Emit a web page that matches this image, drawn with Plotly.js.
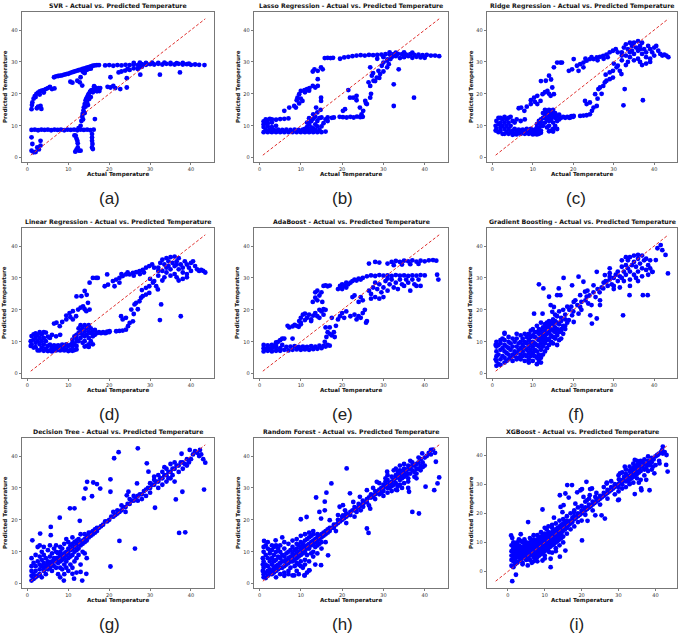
<!DOCTYPE html>
<html><head><meta charset="utf-8">
<script src="https://cdn.plot.ly/plotly-3.0.1.min.js"></script>
<style>html,body{margin:0;padding:0;background:#fff}#chart{width:685px;height:635px}</style>
</head><body><div id="chart"></div>
<script>
// ---------- data ----------
const modelNames = ["SVR","Lasso Regression","Ridge Regression","Linear Regression","AdaBoost","Gradient Boosting","Decision Tree","Random Forest","XGBoost"];
const panelLetters = ["(a)","(b)","(c)","(d)","(e)","(f)","(g)","(h)","(i)"];
const tickValues = [0,10,20,30,40];
const actualMin = 0.8, actualMax = 43.5;

const svrPoints = [
[1,8.7],[1.8,8.8],[2.6,8.6],[3.4,8.8],[4.2,8.7],[5,8.8],[5.8,8.6],[6.6,8.8],[7.4,8.7],[8.2,8.8],[9,8.6],[9.8,8.8],[10.6,8.7],[11.4,8.8],[12.2,8.6],[13,8.8],[13.8,8.7],[14.6,8.8],[15.4,8.6],[16.2,8.8],
[1,6.4],[1.2,4.3],[1.5,1.7],[1,2.2],[2.4,3.2],[3.2,3.8],[3.2,5.3],[2,1.8],[2.8,2.6],
[1,15.2],[1.1,16.5],[1.2,17.3],[1.5,18.5],[1.8,19.3],[2.2,20],[2.6,20.4],[3,20.8],[3.5,21],[4,21.2],[4.5,21.5],[5,21.8],[5.5,22.2],[6,21.5],[6.6,21.7],[2.3,15.5],[2.6,16],[3.2,16.2],[3.4,15.3],[2,19],[3,19.8],[4,20.4],
[6.5,25.2],[7,25.5],[7.5,25.6],[8,25.7],[8.5,25.8],[9,26],[9.5,26.2],[10,26.3],[10.5,26.6],[11,26.8],[11.5,27],[12,27.2],[12.5,27.4],[13,27.6],[13.5,27.8],[14,28],[14.5,28.2],[15,28.4],[15.5,28.6],[16,28.8],[16.5,28.9],[17,29],[17.5,29],[13.5,27],[14,27.2],[14.5,27.5],[15,27.8],[14,26.5],[15.5,27.9],
[19,28.9],[20,29],[21,28.8],[22,29],[23,28.9],[24,29.1],[25,29],[26,29.2],[27,29],[28,29.3],[29,29.1],[30,29.3],[31,29.2],[32,29.4],[33,29.2],[34,29.4],[35,29.3],[36,29.2],[37,29.4],[38,29.2],[39,29.3],[40,29.1],[41,29.2],[42,29.1],[43.3,29],
[26,29.7],[27.5,29.8],[29,29.7],[30.5,29.8],[32,29.7],[33.5,29.8],[35,29.7],[36.5,29.6],[38,29.7],[39.5,29.5],
[25,27.5],[26,28],[27,27.8],[27.5,28.3],[28,28.5],[32.4,26],[37.3,26.7],
[12.5,9.3],[13,10],[13.2,11.5],[13.4,12.8],[13.5,13.7],[13.7,14.8],[13.8,15.8],[14,16.8],[14.2,17.9],[14.4,18.5],[14.6,18.9],[14.8,19.5],[15,20],[15.3,20.6],[15.5,21],[15.8,21.2],[16.2,21.5],[16.6,21.4],[17,21.5],[17.4,21.8],[17.8,21.8],[16,20.5],[17,20.8],[16.5,22],[15.5,19],[14.2,16],[13.6,12],[17.6,20.9],[16.3,22.4],[14.6,17.2],[15.1,18.4],[14,14],[14.8,16.5],
[11.5,7],[11.8,6.9],[12,6],[12.2,5.3],[12.3,4.5],[12.3,3.2],[12.6,2.2],[13,2.2],[12,2.5],[11.7,1.9],
[15.8,7.4],[15.8,6.3],[15.8,5.3],[15.9,4.3],[15.8,3.2],[16,2.7],[16.5,12.1],
[19.6,22.2],[20.3,22],[21.5,21.8],[20.3,25.2],[22.7,21.5],[24.3,22],[22.3,26.7],[23.9,27.3],[24.3,24.9],[27.6,26],[12.2,24.1],[13.4,22.6],[12.8,23.6],[10.5,23.8],[11,23.5],[13,25.2],[13.8,26.7],[21,22.5],[23,27],[24.5,27.8]
];

const lassoPoints = [
[1,8],[2,8],[3,8],[4,8],[5,8],[6,8],[7,8],[8,8],[9,8],[10,8],[11,8],[12,8],[13,8],[14,8],[15,8],
[1.5,8.8],[2.5,8.8],[3.5,8.7],[4.5,8.8],[5.5,8.7],[6.5,8.8],[7.5,8.7],[8.5,8.8],[9.5,8.7],[10.5,8.8],[11.5,8.7],[12.5,8.8],[13.5,8.7],[14.5,8.8],
[1,9.6],[1,10.5],[1,11.4],[2,9.8],[2,10.8],[2,11.8],[3,9.6],[3,11],[3,12],[1.5,12],[2.5,12.2],[4,11.9],[5,12.1],[6,12.2],[7,12.3],[4,10],[1.5,10.8],
[11.5,9.6],[12,10.5],[12.5,11.4],[13,12.2],[11.5,11],[12.5,9.5],[13.5,10.4],[14,11.5],[14.5,12.4],[15,9.8],[15.5,10.8],[16,12],[13,9.2],[14,9.8],[12,12.4],[13.5,12.8],[15,12.6],[16.5,12.6],[17.5,12.5],[18,12.6],[11,9],[16,8.2],[16.5,11.5],
[13,13.6],[14,14.2],[14.8,15],
[6,14.7],[7.2,15.7],[8.4,16.2],[8.8,15.7],[9.2,18.8],[9.6,17],[9.6,19.9],[10,20.9],[10.4,17.8],[10.9,21.2],[11.5,21.5],[12.1,21.8],[12.9,22.5],[13.5,22],[14.1,22.5],[9,18],[10,18.5],[11,20.5],[12,21],
[13.3,27.7],[14.1,27.2],[14.9,28.3],[15.3,27.7],[14.1,24.6],[12.9,27],[14.9,17.8],[14.9,18.8],[13.7,15.7],
[15.8,31.2],[16.5,31.3],[17.2,31.2],[17.8,31.3],[19.5,31],[20.5,31.4],[21.5,31.6],[22.5,31.8],[23.5,32],[24.5,32.1],[25.5,32],[26.5,32.2],[27.5,32.1],[28.5,32.2],[29.5,32.3],[30.5,32.4],[31.5,32.3],[32.5,32.4],[33.5,32.5],[34.5,32.4],[35.5,32.3],[36.5,32.4],[37.5,32.2],[38.5,32.3],[39.5,32.1],[40.5,32.2],[41.5,32],[42.5,32],[43.5,31.8],
[28.5,31],[30,31.5],[31,30.8],[32,31.5],[33,31.8],[34,31.2],[35,31.5],[36,31.8],[37,31.3],[38,31.6],[39,31.4],[40,31.3],[33,32.9],[35,33],[37,32.9],[31.5,33],
[19.4,12.8],[20.2,12.7],[21.1,12.6],[22,12.8],[22.8,12.6],[23.6,12.9],[24.4,12.7],[25,12.8],
[24.7,13.6],[24.3,15.7],[23.5,18],[23.5,19.4],[22.7,18.8],[21.9,18.8],[21.5,21.2],[25.6,17.8],[26,16.8],[26.8,18.8],[26.4,23.6],[26.8,22.5],[26.8,28.3],[27.2,25.7],[27.6,24.1],[28.4,25.1],[29.2,26.2],[28.8,27.2],[29.6,28.8],[30,29.8],[30.9,30.4],[30.9,28.3],[31.3,29.3],[31.7,30.9],[32.5,31.9],[32.5,23],[32.5,16.2],[33.7,27.7],[37.4,18.8],[20.2,14.7],[20.7,15.2],[25.1,14.7],[28,24],[29,25],[30,27],[27.5,26.5],[25.8,17],[27,20]
];

const ridgePoints = [
[0.8,8.5],[0.8,10],[1,11.5],[1,9],[1.5,8],[1.5,10.5],[1.5,12.5],[2,8.5],[2,9.5],[2,11],[2,12.5],[2.5,7.5],[2.5,10],[2.5,12],[3,7.5],[3,9],[3,11],[3,12.8],[3.5,8],[3.5,10],[3.5,12],[4,7.5],[4,9],[4,11],[4,12.5],[4.5,8],[4.5,10],[5,7.2],[5,8.5],[5,11.5],[5.5,7.5],[5.5,9],[6,7.3],[6,8.3],[6,12],[6.5,7.8],[6.5,8.8],[7,7.5],[7,8.5],[7.5,7.8],[7.5,8.8],[8,7.5],[8,8.5],[8.5,7.8],[8.5,9],[9,7.5],[9,8.5],[9.5,7.8],[9.5,9],[10,7.3],[10,8.5],[10.5,7.5],[10.5,8.8],[11,7.3],[11,8.3],[11,9.5],[11.5,7.5],[11.5,9],[12,7.8],[12,8.5],[12,10],[4.5,12.8],[5.5,11],[7,11.5],[8,12],
[11,10.5],[11.5,11.5],[12,12],[12,11],[12.5,10],[12.5,12.5],[13,11],[13,12.5],[13,13.5],[13.5,9.5],[13.5,12],[13.5,14],[14,10],[14,11.5],[14,13],[14,15],[14.5,8.5],[14.5,12],[14.5,14],[15,9],[15,11],[15,13],[15,15],[15.5,10],[15.5,12.5],[15.5,14],[16,9],[16,11.5],[16,13],[16.5,12],[16.5,13.5],[17,12.5],[17.5,12.8],[18,12.5],[18.5,12.8],[19,12.5],[19.5,13],[20,12.8],[12.5,14],[13,15],[14,8.3],[15,8.2],
[6.5,15.5],[7.1,15.7],[7.9,14.7],[8.5,16],[9.5,16.8],[9.5,18],[10.3,18.8],[10.5,17.5],[11.1,19.4],[11.1,16.8],[11.9,17.8],[12.4,19.9],[13,20.5],[13.6,20.9],[14.4,19.4],[14,20],[15.2,19.9],[14.8,22],[13.2,24.1],[14,25.7],[14.5,24.5],[15.2,28.3],[16,29.8],[16.8,29.8],[17.2,29.8],[12,24],
[18.9,27.2],[19.7,27.7],[20.1,30.9],[20.9,28.8],[21.3,27.2],[21.7,29.3],[22.5,28.3],[22.5,29.8],[23.3,30.4],[24.1,30.9],[25,30.9],[25.8,31.4],[26.6,31.6],[27.4,31.9],[28.2,32.3],[29,33],[29.8,33.5],[23,31],[24.5,31.5],[26,30.5],[27.5,31],[28.5,31.5],[30.5,34],
[19.3,12.6],[20.1,13.1],[21.7,13.1],[22.5,13.2],[23.3,13.3],[24.1,13.6],[24.6,14.7],[22.9,17.8],[23.3,16.8],[24.1,17.3],[25,15.7],[25.8,16.2],[25.4,19.9],[26.2,21.5],[26.6,22],[27.4,22.5],[27.8,23.6],[28.2,24.1],[29,24.6],[29.8,25.1],[29,26.7],[29.8,27.2],[30.7,28.3],[31,28.8],[32.7,21.5],[32.4,16.4],[37.2,18],[31.5,27.2],[31.9,26.2],[26,18.5],[27,20],[28,26],[30,29.5],
[32,33],[32.5,34.5],[33,35.5],[33.5,34],[34,33],[34.5,35],[35,36],[35.5,34.5],[36,33.5],[36.5,35],[37,36],[37.5,34],[38,33],[38.5,35],[39,34],[39.5,33],[40,32],[33,32],[34,31.5],[35,32.5],[36,31],[37,32.5],[38,31.5],[39,31],[32,30.5],[33.5,30],[35,30.5],[36.5,30],[38,29.5],[34,36],[36,36.5],[37,29],[39,30],[31,33],[32,32],[34.5,33.5],[36.5,34],[33,29],[40,34.5],
[40.5,35],[41,33.5],[41.5,32.5],[42,32],[42.5,32.3],[43,32],[43.5,31.5]
];

const linearPoints = [
[0.8,8.7],[0.8,10.2],[1,11.8],[1,9.2],[1.5,8.2],[1.5,10.7],[1.5,12.3],[2,8.3],[2,9.7],[2,11.2],[2,12.6],[2.5,7.3],[2.5,10.2],[2.5,12.2],[3,7.3],[3,9.2],[3,11.2],[3,13],[3.5,8.2],[3.5,10.2],[3.5,12.3],[4,7.2],[4,9.1],[4,11.2],[4,13],[4.5,7.8],[4.5,10.2],[5,7.1],[5,8.7],[5,11.6],[5.5,7.3],[5.5,9.1],[6,7],[6,8.2],[6,12.2],[6.5,7.6],[6.5,8.9],[7,7.3],[7,8.6],[7.5,7.6],[7.5,8.9],[8,7.3],[8,8.6],[8.5,7.6],[8.5,9.1],[9,7.3],[9,8.7],[9.5,7.6],[9.5,9.2],[10,7.1],[10,8.7],[10.5,7.4],[10.5,9],[11,7.2],[11,8.5],[11,9.7],[11.5,7.4],[11.5,9.2],[12,7.6],[12,8.7],[12,10.2],[4.5,12.9],[5.5,11.2],[7,11.7],[8,12.2],
[11,10.7],[11.5,11.7],[12,12.2],[12,11.2],[12.5,10.2],[12.5,12.7],[13,11.2],[13,12.7],[13,13.7],[13.5,9.7],[13.5,12.2],[13.5,14.2],[14,10.2],[14,11.7],[14,13.2],[14,15.2],[14.5,8.7],[14.5,12.2],[14.5,14.2],[15,9.2],[15,11.2],[15,13.2],[15,15.2],[15.5,10.2],[15.5,12.7],[15.5,14.2],[16,9.2],[16,11.7],[16,13.2],[16.5,12.2],[16.5,13.7],[17,12.7],[17.5,13],[18,12.7],[18.5,13],[19,12.7],[19.5,13.2],[20,13],[12.5,14.2],[13,15.2],[14,8.5],[15,8.4],
[6.5,15.7],[7.1,16],[7.9,14.9],[8.5,16.2],[9.5,17],[9.5,18.2],[10.3,19],[10.5,17.7],[11.1,19.6],[11.1,17],[11.9,18],[12.4,20.1],[13,20.7],[13.6,21.1],[14.4,19.6],[14,20.2],[15.2,20.1],[14.8,22.2],[13.2,24.3],[14,25.9],[14.5,24.7],[15.2,28.5],[16,30],[16.8,30],[17.2,30],[12,24.2],
[18.9,27.4],[19.7,27.9],[19.5,31.1],[20.9,29],[21.3,27.4],[21.7,29.5],[22.5,28.5],[22.5,30],[23.3,30.6],[24.1,31.1],[25,31.1],[25.8,31.6],[26.6,31.8],[27.4,32.1],[28.2,32.5],[29,33.2],[29.8,33.7],[23,31.2],[24.5,31.7],[26,30.7],[27.5,31.2],[28.5,31.7],[30.5,34.2],
[19.3,12.8],[20.1,13.3],[21.7,13.3],[22.5,13.4],[23.3,13.5],[24.1,13.8],[24.6,14.9],[22.9,18],[23.3,17],[24.1,17.5],[25,15.9],[25.8,16.4],[25.4,20.1],[26.2,21.7],[26.6,22.2],[27.4,22.7],[27.8,23.8],[28.2,24.3],[29,24.8],[29.8,25.3],[29,26.9],[29.8,27.4],[30.7,28.5],[31,29],[32.7,21.7],[32.4,16.8],[37.5,18],[31.5,27.4],[31.9,26.4],[26,18.7],[27,20.2],[28,26.2],[30,29.7],
[32,33.2],[32.5,34.7],[33,35.7],[33.5,34.2],[34,33.2],[34.5,35.2],[35,36.5],[35.5,34.7],[36,33.7],[36.5,35.2],[37,36.2],[37.5,34.2],[38,33.2],[38.5,35.2],[39,34.2],[39.5,33.2],[40,32.2],[33,32.2],[34,31.7],[35,32.7],[36,31.2],[37,32.7],[38,31.7],[39,31.2],[32,30.7],[33.5,30.2],[35,30.7],[36.5,30.2],[38,29.7],[34,36.2],[36,36.7],[37,29.2],[39,30.2],[31,33.2],[32,32.2],[34.5,33.7],[36.5,34.2],[33,29.2],[40,34.7],
[40.5,35.2],[41,33.7],[41.5,32.7],[42,32.2],[42.5,32.5],[43,32.2],[43.5,31.7]
];

const adaPoints = [
[1,7],[1,8],[1,9],[2,7.2],[2,8.2],[2,8.9],[3,7],[3,8],[3,9],[4,7.2],[4,8.3],[4,9],[5,7.2],[5,8],[5.5,9],[6,7.5],[6.5,8.4],[7,7.3],[7.5,8.5],[8,7.5],[8.5,8.6],[9,7.6],[9.5,8.4],[10,7.5],[10.5,8.5],[11,7.6],[11.5,8.4],[12,7.5],[12.5,8.6],[13,7.7],[13.5,8.5],[14,7.8],[14.5,8.8],[15,8],[15.5,8.7],[16,8.5],[16.5,9],[17,8.8],[1.5,7.7],[2.5,7.6],[3.5,8.6],
[4,9.8],[4.5,10],[5,10.5],[5.5,11],[6,11],[8,11],
[6.8,15],[7.2,14.5],[8,14.8],[8.5,15.3],[9,15],[9.5,14.7],[10,15.5],
[9.6,16.5],[10,17.5],[10.5,18.5],[11,16.8],[11.5,17.5],[12,18.5],[12.5,17],[13,18.2],[13.5,19],[14,18],[14.5,20],[15,19.5],[15.5,18.5],[16,20],[11,18.8],[12.5,16.5],[14.5,17.5],[15.5,20.2],[10,16],
[12.9,22.5],[13.5,25.5],[14,23],[14.5,24.5],[15,25.5],[14,26],[15.2,22.5],[13.5,23.8],
[15.5,27.5],[16,27.7],[16.5,27.4],[17,27.6],
[15.8,10],[16.2,11.5],[16.5,13],[17,14.5],[17.5,12],[18,13],[16,14.5],[18.2,11.5],[17,12.5],[17.5,17.5],
[19,26.5],[19.5,27.5],[20,28],[20.5,27.5],[21,28.5],[21.5,28],[22,28.5],[22.5,29],[23,29.5],[23.5,29.2],[24,29.8],[24.5,29.5],[25,30],[20,26.5],[21,27],
[26,30.5],[27,30.8],[28,30.6],[29,30.9],[30,30.7],[31,30.8],[32,30.6],[33,30.9],[34,30.7],[35,30.8],[36,30.6],[37,30.8],[38,30.7],[39,30.9],[40,30.8],
[26.5,34.5],[28,35],[29,34.8],[31,34.5],[32,35],[33,35.3],[34,35],[35,35.4],[36,35.2],[37,35.5],[38,35.1],[39,35.4],[40,35.2],[41,35.5],[42,35.6],[42.8,35.4],[32.5,34],[34.5,34.2],[36.5,34.3],[38.5,34.4],
[26.5,26],[27,25],[27.5,27],[28,24],[28.5,26.5],[29,28],[29.5,25.5],[30,27],[30.5,29],[31,26],[31.5,28],[32,29.5],[32.5,27],[33,28.5],[33.5,26.5],[34,29.5],[34.5,28],[35,27.5],[35.5,29.5],[36,28.5],[36.5,26],[37,29.5],[37.5,28],[38,27.5],[39,27.5],[38.5,29.5],[29,23.5],[30,24],[27,23.5],[28,28.5],[31,29.8],
[18.5,15],[19,17],[19.5,18],[20,19],[20.5,17.5],[21,19.5],[22,18],[23,18.5],[23.5,17],[24,18],[24.5,17.5],[25,19],[25.5,20],[26,16.5],[25.8,16],[24.5,24],[25,23],[22.5,24],[23,24.5],[24,22.5],
[43,31],[43.3,29.5]
];

const gbPoints = [
[1,2.5],[1,4],[1,5.5],[1,7],[1,8.5],[1,10],[1.5,3],[1.5,6],[1.5,9],[2,2.8],[2,4.5],[2,7.5],[2,9.5],[2,10.5],[2.5,5.5],[2.5,8],[3,3.5],[3,5],[3,7],[3,9],[3,10.5],[3,12.5],[3.5,4],[3.5,6.5],[3.5,8.5],[4,4.5],[4,6],[4,8],[4,10],[4.5,5],[4.5,7.5],[4.5,9.5],[5,4],[5,6],[5,8.5],[5,11],[5.5,5.5],[5.5,7],[5.5,10],[6,4.5],[6,6.5],[6,8.5],[6,11],[6.5,5],[6.5,7.5],[6.5,9.5],[7,4.5],[7,6],[7,8],[7,10],[7,12],[7.5,5.5],[7.5,7],[7.5,9],[7.5,11],[8,4],[8,6],[8,8],[8,10],[8,12.5],[8.5,5.5],[8.5,7.5],[8.5,9.5],[8.5,11.5],[9,4.5],[9,6.5],[9,8.5],[9,10.5],[9,12.5],[9.5,5.5],[9.5,7.5],[9.5,9.5],[9.5,11.5],[9.5,13.5],[10,4],[10,6.5],[10,8.5],[10,10],[10,12],[10,14],[10.5,5.5],[10.5,7.5],[10.5,9.5],[10.5,11.5],[10.5,13],[11,3],[11,5],[11,7],[11,9],[11,11],[11,13],[11,15],[11.5,4],[11.5,6],[11.5,8.5],[11.5,10.5],[11.5,12.5],[11.5,14],[12,5],[12,7.5],[12,9.5],[12,11.5],[12,13.5],[12,16],[12.5,6],[12.5,8.5],[12.5,10.5],[12.5,12.5],[12.5,14.5],[13,7],[13,9.5],[13,11.5],[13,13.5],[13,15.5],[13.5,8],[13.5,10.5],[13.5,12.5],[13.5,14.5],[13.5,16],[14,9],[14,11],[14,13],[14,15],[14,16.5],[14.5,10],[14.5,12],[14.5,14],[14.5,16],[15,9.5],[15,11.5],[15,13.5],[15,15.5],[15,17],[15.5,11],[15.5,13],[15.5,14.5],[15.5,16.5],[16,9],[16,12],[16,14],[16,16],[16.5,10.5],[16.5,13],[16.5,15.5],[17,11],[17,13.5],[17,16.5],[17.5,12.5],[17.5,15],[18,14],[18,17],[0.8,9],[0.8,4.5],[2.5,11],[4,11.5],[6,12.5],[12,3.5],[9,3.5],[3,12.8],
[14.4,21.5],[15.2,20.9],[14.8,19.4],[17.6,30],[12.6,26.7],[11.5,28],[14,24.1],[16,24.6],[16.8,24.6],[16.4,26.7],[10.3,18.8],[12.4,18.8],[19.7,27.7],[21.3,30.4],[22.5,28.8],[20.1,22.5],[19.7,18.3],[20.1,16.2],[18.9,16.8],[21.7,24.6],[22.9,25.7],[23.3,24.1],[23.7,22],[21.7,20.9],[21.3,18.8],[24.2,18.3],[24.6,15.7],[25.8,17.3],[26.6,23],[26.6,21.5],[25,27.7],[25.8,31.9],[27.4,26.7],[28.2,28.8],[29,30.4],[27.8,30.9],[29,33],[32.3,18.3],[33.9,24.6],[37.2,24.6],[38.4,24.6],[43.4,31.4],[42.8,37.2],[41.6,40.3],[40.8,39.3],[42,38.7],[39.6,31.9],[40.4,35.6],
[17,17.5],[18,18.5],[18.5,16],[19,20],[19.5,21],[20,19.5],[20.5,23],[21,21.5],[22,22.5],[22,20],[23,23],[23.5,26],[24,24.5],[24.5,21.5],[25,25.5],[25.5,24],[26,26.5],[26.5,25.5],[18,15],[17.5,20],[16,18],[15.5,18.5],[17,14],[18.5,21],[16.5,19.5],
[27,27],[27.5,28.5],[28,29],[28.5,27.5],[29,29.5],[29.5,28],[30,30],[30,27.5],[30.5,31],[31,29],[31,32],[31.5,30.5],[32,33.5],[32,30],[32.5,32],[33,34],[33,31],[33.5,35.5],[33.5,33],[34,36.5],[34,32],[34,29.5],[34.5,34],[35,37],[35,35],[35,31],[35.5,33.5],[36,36],[36,32],[36,29],[36.5,34.5],[37,37],[37,33],[37,30.5],[37.5,35.5],[38,36],[38,32.5],[38.5,34],[38.5,31],[39,35.5],[39,33],[39.5,31.9],[33,36.5],[32,35.5],[36,37.2],[34,27.5],[31.5,27],[30,26.5],[29,31.5],[32.5,29],[35.5,30]
];

const dtPoints = [
[1,1],[1,2.5],[1,4],[1,5.5],[1,8],[1.5,1.5],[1.5,3],[1.5,6.5],[2,2],[2,4],[2,5.5],[2,9],[2.5,2.5],[2.5,7],[2.5,11.5],[3,3],[3,4.5],[3,6],[3,8.5],[3,12],[3.5,2],[3.5,5.5],[3.5,7.5],[3.5,10],[4,4],[4,5],[4,6.5],[4,9],[4,11.5],[4.5,3],[4.5,5.5],[4.5,8],[5,4.5],[5,6],[5,7],[5,10.5],[5.5,5],[5.5,6.5],[5.5,8.5],[5.5,12],[6,4],[6,6],[6,7],[6,9.5],[6.5,5.5],[6.5,7],[6.5,8],[6.5,11],[7,5],[7,7],[7,8],[7,10],[7,12],[7.5,6.5],[7.5,8],[7.5,9.5],[7.5,3],[8,5],[8,7],[8,8.5],[8,10],[8,11.5],[8,2],[8.5,7.5],[8.5,9],[8.5,11],[8.5,4.5],[9,6],[9,8],[9,9.5],[9,12.5],[9,3],[9.5,7],[9.5,9],[9.5,10],[9.5,14],[9.5,5],[10,8],[10,9.5],[10,11],[10,13],[10,4],[10.5,8.5],[10.5,10.5],[10.5,12],[10.5,6],[11,9],[11,11],[11,12.5],[11,14.5],[11,5],[11.5,10],[11.5,11.5],[11.5,13],[11.5,7],[12,10.5],[12,12],[12,13.5],[12,8],[12,3.5],[12.5,11],[12.5,12.5],[12.5,14],[12.5,9],[13,12],[13,13],[13,15.5],[13,6],[13.5,12.5],[13.5,13.5],[13.5,10],[14,13],[14,14],[14,15.5],[14,9.5],[14.5,13.5],[14.5,14.5],[14.5,8],[15,14.5],[15,15],[15,16],[15.5,15],[15.5,16],[16,15.5],[16,16.5],[16.5,16],[16.5,17],[17,16.5],[17,17.5],[17.5,17.5],[18,18],[18.5,18.5],[19,19.5],[19.5,19.5],[20,20],[20.5,21],[21,21],[21,22.5],[21.5,21.5],[22,22],[22,23],[22.5,22.5],[23,23],[23,24.5],[23.5,24],[24,24],[24,22.5],[24.5,25],[25,25],[25,26.5],[25.5,26],[26,26],[26,27.5],[26.5,26.5],[27,27.5],[27,26],[27.5,28],[28,28],[28,26.5],[28.5,29],[29,29.5],[29.5,30],[30,30],[30,31.5],[30.5,31],[31,31],[31,32.5],[31.5,32],[32,32],[32,34],[32,30],[32.5,33],[33,33],[33,35],[33,31],[33.5,34],[33.5,36.5],[34,34],[34,32],[34,36],[34.5,35],[34.5,33],[35,35],[35,37.5],[35,33],[35.5,36],[35.5,34],[36,36],[36,38],[36,32],[36.5,37],[37,37],[37,35],[37.5,38],[38,38],[38,36],[38.5,37.5],[39,39],[39,37],[39.5,38],[40,39],[40.5,40.5],[41,41.5],[41.5,41],[42,40],[42.5,40.5],[43,39],[31,33.5],[29,27.5],[30,28.5],
[14.6,31.9],[16.1,31.7],[17,31.2],[17.8,29.8],[14.2,29.8],[13.8,26.7],[15.8,27.4],[10.4,23.6],[11.5,23.6],[7.9,20.7],[12.8,19.7],[20.3,32.7],[20.3,28.8],[21.2,39.3],[22.3,41.2],[27,42.4],[26.8,31.4],[24.7,28.8],[22.5,13.4],[26.3,11],[20.3,5.4],[37.1,15.9],[38.6,16.1],[43.2,29.5],[43.5,37.9],[37.7,40.7],[39.7,41.9],[42.2,41.9],[31.2,23.8],[36.3,26.4],[37.9,28.8],[24.3,27.7],[29.2,37.7],[29.6,35.1],
[8.9,1],[11.4,1.6],[13.4,1],[14.4,3.1],[13,3.7],[11,3.1],[1.2,13.6],[3.1,15.7],[5.7,17.8],[5.7,15.2]
];

const rfPoints = [
[0.8,4],[0.8,6],[0.8,8],[1,2],[1,3],[1,5],[1,7],[1,10],[1.1,13.4],[1.5,1.8],[1.5,3.5],[1.5,6],[1.5,9],[2,2.5],[2,4],[2,5.5],[2,8],[2,11],[2.5,3],[2.5,4.5],[2.5,7],[2.5,9.5],[3,3],[3,4],[3,6],[3,8],[3,10.5],[3.5,3.5],[3.5,5],[3.5,7],[3.5,9],[3.9,13.6],[4,4],[4,5.5],[4,7.5],[4,10],[4.5,4.5],[4.5,6],[4.5,8.5],[4.5,11],[5,5],[5,6.5],[5,8],[5,10],[5.5,5],[5.5,7],[5.5,9],[5.5,14.5],[6,5.5],[6,7],[6,8.5],[6,11],[6.5,6],[6.5,7.5],[6.5,9.5],[7,6.5],[7,8],[7,10],[7,3],[7.5,7],[7.5,8.5],[7.5,10.5],[7.5,5],[8,7],[8,8.5],[8,9.5],[8,11.5],[8,2.6],[8.5,7.5],[8.5,9],[8.5,10.5],[8.5,5.5],[9,8],[9,9.5],[9,11],[9,12.5],[9,4],[9.5,8.5],[9.5,10],[9.5,12],[9.5,6],[10,9],[10,10.5],[10,11.5],[10,13],[10,7],[10.5,9.5],[10.5,11],[10.5,12.5],[10.5,5],[10.9,2.6],[11,10],[11,11.5],[11,13.5],[11,7.5],[11.5,11],[11.5,12],[11.5,14],[11.5,9],[12,11],[12,12.5],[12,14.5],[12,4.2],[12.5,12],[12.5,13],[12.5,15],[12.5,9.5],[13,12.5],[13,13.5],[13,15.5],[13,10],[13.5,13],[13.5,14],[13.5,11.5],[14,13.5],[14,14.5],[14,15.5],[14,12],[14.5,14],[14.5,15],[14.5,12.5],[14.9,5.8],[15,14.5],[15,15.5],[15,13],[15.5,15],[15.5,16],[16,15.5],[16,16.5],[16.6,8.9],[16.5,16],[16.5,17],[17,16.5],[17,17.5],[17.5,17.5],[18,17.5],[18,18.5],[18.5,18.5],[19,19],[19,20],[19.5,19.5],[20,20],[20,21],[20.5,20.5],[21,21],[21,22],[21.5,21.5],[22,22.5],[22,21.5],[22.5,23],[23,23],[23,24],[23.5,23.5],[24,24],[24,25],[24.5,24.5],[25,25],[25,26],[25.5,25.5],[26,26.5],[26,25.5],[26.5,27],[27,27],[27,28],[27.5,27.5],[28,28],[28,29],[28.5,28.5],[29,29.5],[29,28],[29.5,30],[30,30],[30,31],[30,29],[30.5,30.5],[30.5,32],[31,31],[31,30],[31,32.5],[31.5,31.5],[31.5,30],[32,32],[32,33.5],[32,30.5],[32.5,32.5],[32.5,31],[33,33],[33,34],[33,31.5],[33.5,33.5],[33.5,35],[34,34],[34,35.5],[34,32.5],[34.5,34.5],[34.5,33],[35,35],[35,36],[35,33.5],[35.5,35.5],[35.5,34],[36,36],[36,37],[36,34.5],[36.5,36],[36.5,34.5],[37,37],[37,35.5],[37.5,37],[37.5,35],[38,37.5],[38,36],[38.5,38],[38.5,36],[39,39],[39,37],[39.5,38],[40,39.5],[40.5,40],[41,41],[41.5,40.5],[42,42],[42.5,41],
[21.1,36.1],[17.4,31.4],[16.2,28.5],[13.7,27],[15.8,25.7],[14.5,22.5],[15.8,23],[10,20.2],[11.4,20.9],[14.9,20.4],[17,19.9],[20.2,24.6],[20.7,23],[26,17.3],[26.4,15.9],[37,22.5],[38.6,22],[28.4,31.9],[30.9,35.1],[42.3,29.3],[43.5,33.3],[43.1,31.4],[39.4,40.8],[41.5,41.9],[42.7,38.2],[36.2,28.8],[40.2,30.4],[33.3,29.3],[12.1,4.2],[10.9,2.6],[8.4,2.6],
[19.4,24.1],[20.2,21.4],[21.9,28.3],[22.7,25.6],[24.3,27.2],[23.5,22.5],[25.1,24.1],[26,29.3],[18.5,16.5],[19,21.5],[21,19],[23,21],[24.5,23],[26.5,24.5],[27.5,30],[28,26.5],[26.8,23.5],
[29,31.5],[30,27.5],[31,34],[32,29],[33,36],[34,31],[35,37.5],[36,33],[37,38],[38,34.5],[35,31.5],[33,29.5],[36,30],[38,33],[39,35.5],[40,37],[31,28.5],[32.5,35.5],[34.5,30],[36.5,38.5],[37.5,33.5],[39.5,36.5],[38.5,39.5],[30.5,33],[29.5,28.5],[34,37],[36,32],[33.5,30.5],
[1,11.5],[1.5,12],[2,13],[2.5,10.5],[3,12],[3.5,11.5],[4,12],[5,12],[6,13],[7,12.5],[8,13.5],[9,14],[10,15],[11,15.5],[12,16],[13,16.5],[6,3.5],[7,4],[9,6.5],[10,5.5],[11,6],[12,7],[13,8.5],[14,9.5],[15,11],[16,13],[13.5,6],[11.5,3.5],[9.5,3],[4,2],[5,3],[6,2.5]
];

const xgbPoints = [
[1.2,-3.3],[2.2,-1.1],[0.9,12.4],[1.2,11.5],
[1,2],[1,4],[1,5.5],[1,7],[1,9],[1.5,1.5],[1.5,3.5],[1.5,5],[1.5,6.5],[1.5,8],[1.5,10],[2,2.5],[2,4],[2,5.5],[2,7],[2,9],[2.5,3],[2.5,5],[2.5,6.5],[2.5,8],[2.5,10],[3,3.5],[3,5],[3,6],[3,7.5],[3,9],[3,11],[3.5,4],[3.5,5.5],[3.5,7],[3.5,8.5],[3.5,10.5],[4,3],[4,5],[4,6.5],[4,8],[4,10],[4.5,4.5],[4.5,6],[4.5,7.5],[4.5,9],[4.5,11],[5,4],[5,5.5],[5,7],[5,8.5],[5,10],[5.4,2.1],[5.5,17],[5.5,5],[5.5,6.5],[5.5,8],[5.5,9.5],[6,5.5],[6,7],[6,8.5],[6,10],[6,4],[6.5,6],[6.5,7.5],[6.5,9],[6.5,10.5],[7,5],[7,6.5],[7,8],[7,9.5],[7,11],[7.5,6],[7.5,7.5],[7.5,9],[7.5,10.5],[7.5,4.5],[8,6.5],[8,8],[8,9.5],[8,11],[8,5],[8.5,7],[8.5,8.5],[8.5,10],[8.5,11.8],[8.5,5.5],[9,7.5],[9,9],[9,10.5],[9,12],[9,6],[9.4,3.8],[9.5,8],[9.5,9.5],[9.5,11],[9.5,12.5],[9.5,6.5],[10,8.5],[10,10],[10,11.5],[10,13],[10,7],[10,4.5],[10.5,9],[10.5,10.5],[10.5,12],[10.5,7.5],[10.5,14.5],[11,9.5],[11,11],[11,12.5],[11,13.5],[11,8],[11.2,6.7],[11.6,4.4],[11.6,1.5],[11.5,10],[11.5,11.5],[11.5,13],[11.5,8.5],[12,10.5],[12,12],[12,13.5],[12,15],[12,9],[12.5,11],[12.5,12.5],[12.5,14],[12.5,9.5],[12.5,18.5],[13,11.5],[13,13],[13,14.5],[13,10],[13.5,12],[13.5,13.5],[13.5,15],[13.5,10.5],[14,12.5],[14,14],[14,15.5],[14,11],[14.5,13],[14.5,14.5],[14.5,16],[14.5,11.5],[15,14],[15,15],[15,16.5],[15,12],[15.5,14.5],[15.5,15.5],[15.5,17],[16,15],[16,16],[16,17.5],[16.5,16],[16.5,17],[17,16.5],[17,17.5],[17.5,17],[17.5,18.5],[18,18],[18,19],[18.5,18.5],[19,19],[19,20],[19.5,19.5],[20,20],[20,21],[20.5,21],[21,21],[21,22],[21.5,21.5],[22,22],[22,23],[22.5,22.5],[23,23],[23,24],[23.5,23.5],[24,24],[24,25],[24.5,24.5],[25,25],[25,26],[25.5,25.5],[26,26],[26,27],[26.5,26.5],[27,27],[27,28],[27.5,27.5],[28,28],[28,29],[28.5,28.5],[29,29],[29,30],[29.5,29.5],[30,30],[30,29],[30.5,30.5],[30.5,31.5],[31,31],[31,30],[31.5,31.5],[31.5,32.5],[32,32],[32,31],[32,33.5],[32.5,32.5],[32.5,31],[33,33],[33,34.5],[33,31.5],[33.5,33.5],[33.5,35],[33.5,32],[34,34],[34,35.5],[34,32.5],[34.5,34.5],[34.5,36],[34.5,33],[35,35],[35,36.5],[35,33.5],[35.5,35.5],[35.5,37],[35.5,34],[36,36],[36,37.5],[36,34.5],[36.5,36],[36.5,37.5],[37,37],[37,35],[37.5,37],[37.5,35.5],[38,38],[38,36.5],[38.5,38],[38.5,36.5],[39,39],[39,37.5],[39.5,38.5],[40,39.5],[40.5,40],[41,40.5],[41.5,41],[42,40.5],[42.5,41],[43,40],
[16.1,29.7],[17.4,29.7],[14.1,26.2],[16.5,25.4],[14.3,22.2],[9.4,21.3],[18.8,27.2],[20.1,28.3],[21.3,30.8],[22.3,28.3],[21.4,24.4],[20.1,10.7],[21.6,17.4],[23.7,19.3],[26.3,18.2],[26.8,30.5],[30.1,31.6],[30.1,24.7],[34.4,26.6],[36.2,27.9],[38.4,27.9],[39.3,36],[42.9,36.6],[43.3,34.3],[41.8,41.7],[40.6,40],[3.5,12.8],[4,2.5],[6.5,3],
[19.7,27.9],[22.8,28.5],[20.5,25.6],[22.2,26.2],[23.7,25.6],[25.4,19.3],[29.9,24.5],[26.8,30.2],[30.4,33.7],[31.7,36],[34.4,38.3],[36.1,28.5],[39.7,33.7],[41.1,37.1],[42,42.9],[15.1,22.8],[14.8,20.4],[17.9,20.4],[18.3,23.3],[15.6,26.8],[15.6,7.2],[14.1,5.1],
[30,33],[31,28.5],[32,35],[33,30],[34,37],[35,32],[36,38],[37,33],[38,34.5],[39,35],[38,39.5],[37,38.5],[36,31.5],[35,38],[34,30.5],[33,36],[32,29],[31,34],[30,27.5],[28,31],[27,25],[29,26.5],[26,29],[25,23],[24,27],[23,21],[22,25],[21,19.5],[40,36.5],[41,38],[35.5,30.5],[37.5,31.5],
[12,16],[13,8],[14,17.5],[15,10],[16,13],[16,19],[17,14.5],[18,21],[18,15.5],[19,17],[20,22.5],[15,18],[13,16.5],[14,9],[17,20],[19,22],[11,15.5],[10,15],[9,13.5],[8,12.5],[7,12.5],[6,11.5],[12,6.5],[13,7],[10,5.5],[8,3.5],[7,3.5],[20,17.5],[21,24]
];

const panelData = [svrPoints, lassoPoints, ridgePoints, linearPoints, adaPoints, gbPoints, dtPoints, rfPoints, xgbPoints];

// ---------- layout geometry (pixels in the 685x635 page) ----------
const W = 685, H = 635;
const colLeft = [22, 254, 487], colRight = [214, 448, 677];
const rowTop = [12, 228, 438], rowBottom = [162, 378, 588];
const ylabelX = [5, 238, 471], letterX = [109, 342, 576];
const px = v => v / W, py = v => 1 - v / H;

const traces = [];
const layout = {
  width: W, height: H, margin: {l:0, r:0, t:0, b:0},
  paper_bgcolor: '#ffffff', plot_bgcolor: '#ffffff', showlegend: false,
  font: {family: 'DejaVu Sans, sans-serif', color: '#222'},
  annotations: []
};

panelData.forEach((pts, i) => {
  const r = Math.floor(i / 3), c = i % 3, k = i + 1, sfx = k === 1 ? '' : String(k);
  const xs = pts.map(p => p[0]), ys = pts.map(p => p[1]);
  const lo = Math.min(actualMin, ...ys), hi = Math.max(actualMax, ...ys);
  const pad = (hi - lo) * 0.05;
  traces.push({type:'scatter', mode:'markers', x:xs, y:ys, xaxis:'x'+sfx, yaxis:'y'+sfx,
    marker:{color:'#0000ff', size:4.8, line:{width:0}}, hoverinfo:'skip'});
  traces.push({type:'scatter', mode:'lines', x:[lo, hi], y:[lo, hi], xaxis:'x'+sfx, yaxis:'y'+sfx,
    line:{color:'#e0302e', width:1, dash:'3px,2px'}, hoverinfo:'skip'});
  const axisCommon = {
    showgrid:false, zeroline:false, showline:true, mirror:true, linecolor:'#555', linewidth:0.8,
    ticks:'outside', ticklen:2.5, tickwidth:0.7, tickcolor:'#444',
    tickvals: tickValues, tickfont:{family:'DejaVu Sans', size:5, color:'#333'},
    range:[lo - pad, hi + pad], fixedrange:true
  };
  layout['xaxis'+sfx] = Object.assign({}, axisCommon, {domain:[px(colLeft[c]), px(colRight[c])], anchor:'y'+sfx});
  layout['yaxis'+sfx] = Object.assign({}, axisCommon, {domain:[py(rowBottom[r]), py(rowTop[r])], anchor:'x'+sfx});
  const cx = (colLeft[c] + colRight[c]) / 2, cy = (rowTop[r] + rowBottom[r]) / 2;
  const ann = (x, y, text, size, extra) => layout.annotations.push(Object.assign({
    xref:'paper', yref:'paper', x:px(x), y:py(y), text:text, showarrow:false,
    xanchor:'center', yanchor:'middle', font:{family:'DejaVu Sans', size:size, color:'#111'}
  }, extra || {}));
  ann(cx, rowTop[r] - 6, '<b>' + modelNames[i] + ' - Actual vs. Predicted Temperature</b>', 6.2);
  ann(cx, rowBottom[r] + 12, '<b>Actual Temperature</b>', 5.6);
  ann(ylabelX[c], cy, '<b>Predicted Temperature</b>', 5.6, {textangle:-90});
  ann(letterX[c], rowTop[r] + 186, panelLetters[i], 17, {font:{family:'Liberation Sans, Arial, sans-serif', size:17, color:'#222'}});
});

Plotly.newPlot('chart', traces, layout, {staticPlot:true, displayModeBar:false});
</script>
</body></html>
